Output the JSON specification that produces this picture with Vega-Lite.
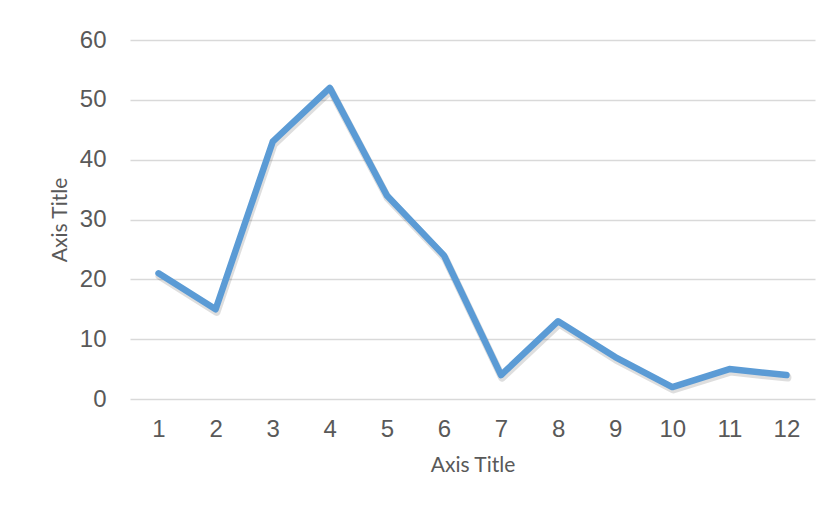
{
  "$schema": "https://vega.github.io/schema/vega-lite/v6.json",
  "width": 685,
  "height": 359,
  "autosize": {"type": "none"},
  "padding": {"left": 130, "top": 40, "right": 15, "bottom": 109},
  "background": "white",
  "config": {"view": {"stroke": null}},
  "data": {"values": [
    {"x": "1", "y": 21}, {"x": "2", "y": 15}, {"x": "3", "y": 43}, {"x": "4", "y": 52},
    {"x": "5", "y": 34}, {"x": "6", "y": 24}, {"x": "7", "y": 4}, {"x": "8", "y": 13},
    {"x": "9", "y": 7}, {"x": "10", "y": 2}, {"x": "11", "y": 5}, {"x": "12", "y": 4}
  ]},
  "encoding": {
    "x": {"field": "x", "type": "ordinal", "sort": null,
      "scale": {"type": "point", "padding": 0.5},
      "axis": {"title": "Axis Title", "labelAngle": 0, "domain": false, "ticks": false,
        "labelFont": "Liberation Sans", "labelFontSize": 24, "labelColor": "#595959", "labelPadding": 18,
        "titleFont": "Lato", "titleFontSize": 21, "titleFontWeight": "normal", "titleColor": "#595959", "titlePadding": 13}},
    "y": {"field": "y", "type": "quantitative",
      "scale": {"domain": [0, 60], "nice": false},
      "axis": {"title": "Axis Title", "values": [0, 10, 20, 30, 40, 50, 60], "domain": false, "ticks": false,
        "gridColor": "#d9d9d9", "gridWidth": 1.5,
        "labelFont": "Liberation Sans", "labelFontSize": 24, "labelColor": "#595959", "labelPadding": 24,
        "titleFont": "Lato", "titleFontSize": 21, "titleFontWeight": "normal", "titleColor": "#595959", "titlePadding": 9}}
  },
  "layer": [
    {"mark": {"type": "line", "color": "#000000", "opacity": 0.13, "strokeWidth": 8, "strokeCap": "round", "strokeJoin": "round", "xOffset": 1, "yOffset": 2.5}},
    {"mark": {"type": "line", "color": "#5B9BD5", "strokeWidth": 6.5, "strokeCap": "round", "strokeJoin": "round"}}
  ]
}
